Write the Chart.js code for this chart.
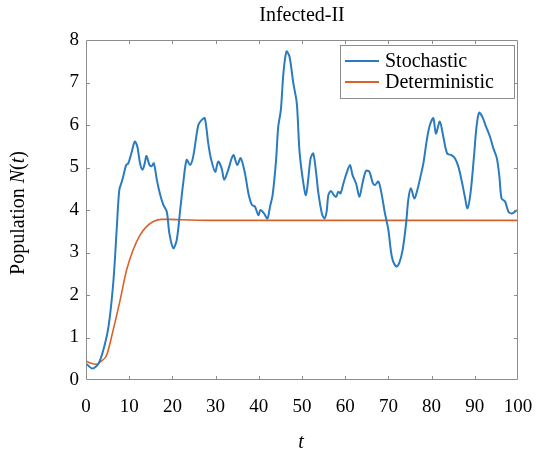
<!DOCTYPE html>
<html>
<head>
<meta charset="utf-8">
<script src="https://cdn.jsdelivr.net/npm/chart.js@4"></script>
<style>
  html, body { margin: 0; padding: 0; background: #fff; }
  #wrap { width: 538px; height: 459px; }
</style>
</head>
<body>
<div id="wrap"><canvas id="infected-chart"></canvas></div>
<script>
// stochastic run
var tStoch = [0, 1.5, 2.9, 4, 5.2, 6.3, 7.1, 7.7, 8.3, 8.6, 9.3, 9.8, 10.6, 11.3, 11.9, 12.5, 13.1, 13.6, 14.0, 14.7,
	15.2, 15.7, 16.4, 17.1, 17.9, 18.7, 19.3, 20.2, 21.0, 21.8, 22.5, 23.3, 24.1, 24.8, 26.0, 26.8, 27.5, 28.3, 28.9, 29.9,
	30.6, 31.4, 32.0, 32.9, 34.1, 35.0, 35.8, 36.8, 37.6, 38.4, 39.1, 39.9, 40.4, 41.2, 42.0, 42.6, 43.2, 44.0, 44.5, 45.1,
	45.7, 46.4, 47.1, 48.0, 48.8, 49.4, 50.2, 50.9, 51.5, 52.0, 52.6, 53.2, 53.8, 54.6, 55.2, 55.7, 56.1, 56.7, 57.4, 57.9,
	58.4, 58.9, 59.6, 60.3, 61.1, 61.7, 62.5, 63.3, 64.0, 64.8, 65.6, 66.4, 66.9, 67.7, 68.4, 69.2, 70.0, 70.8, 71.8, 72.5,
	73.3, 74.1, 74.6, 75.2, 76.0, 76.7, 77.5, 78.1, 78.9, 79.6, 80.4, 81.0, 81.9, 82.7, 83.6, 84.6, 85.4, 86.2, 87.0, 87.7,
	88.3, 89.0, 89.8, 90.4, 91.0, 91.8, 92.6, 93.5, 94.3, 95.1, 95.7, 96.2, 97.0, 97.8, 98.6, 99.8];
var nStoch = [0.39, 0.27, 0.39, 0.7, 1.25, 2.27, 3.53, 4.47, 4.67, 4.78, 5.06, 5.1, 5.37, 5.61, 5.49, 5.1, 4.95, 5.1, 5.27, 5.06,
	5.03, 5.1, 4.71, 4.39, 4.12, 3.96, 3.45, 3.1, 3.29, 4.0, 4.63, 5.18, 5.06, 5.25, 6.0, 6.12, 6.16, 5.57, 5.22, 4.9,
	5.14, 4.98, 4.71, 4.94, 5.29, 5.06, 5.22, 4.86, 4.39, 4.12, 4.08, 3.88, 4.0, 3.92, 3.8, 4.08, 4.35, 5.18, 5.96, 6.35,
	7.22, 7.73, 7.61, 6.98, 6.51, 5.41, 4.71, 4.35, 4.78, 5.22, 5.33, 4.94, 4.39, 3.92, 3.8, 3.96, 4.35, 4.45, 4.35, 4.31,
	4.43, 4.39, 4.63, 4.86, 5.06, 4.82, 4.63, 4.31, 4.63, 4.92, 4.9, 4.63, 4.59, 4.67, 4.39, 3.92, 3.53, 2.9, 2.67, 2.75,
	3.06, 3.69, 4.24, 4.51, 4.27, 4.47, 4.82, 5.1, 5.65, 6.0, 6.16, 5.8, 6.08, 5.73, 5.33, 5.29, 5.22, 5.02, 4.67, 4.31,
	4.04, 4.39, 5.25, 5.96, 6.29, 6.18, 5.96, 5.73, 5.45, 5.22, 4.78, 4.27, 4.2, 3.96, 3.92, 4.0];

// deterministic solution
var tDet = [0, 1, 2.5, 3.5, 4.8, 6.3, 7.9, 9.4, 10.9, 12.5, 14.0, 15.6, 17.5, 19.4, 22, 26, 30, 40, 50, 60, 70, 80, 90, 100];
var nDet = [0.45, 0.4, 0.37, 0.44, 0.59, 1.18, 1.88, 2.59, 3.06, 3.41, 3.61, 3.73, 3.78, 3.78, 3.77, 3.76, 3.755, 3.755, 3.755, 3.755, 3.755, 3.755, 3.755, 3.755];

var seriesNames = ['Stochastic', 'Deterministic'];
var xTicks = [0, 10, 20, 30, 40, 50, 60, 70, 80, 90, 100];
var yTicks = [0, 1, 2, 3, 4, 5, 6, 7, 8];

var serif = '"Liberation Serif", "DejaVu Serif", serif';
var axisGray = '#8c8c8c';

function toPoints(xs, ys) {
	var pts = [];
	for (var i = 0; i < xs.length; i++) {
		pts.push({ x: xs[i], y: ys[i] });
	}
	return pts;
}

// box, inward ticks, title, axis labels and legend
var decorPlugin = {
	id: 'decor',
	afterDraw: function(chart) {
		var ctx = chart.ctx;
		var a = chart.chartArea;
		var xs = chart.scales.x, ys = chart.scales.y;
		ctx.save();
		ctx.strokeStyle = axisGray;
		ctx.lineWidth = 1;
		ctx.beginPath();
		ctx.rect(a.left + 0.5, a.top + 0.5, a.right - a.left - 1, a.bottom - a.top - 1);
		for (var i = 1; i < xTicks.length - 1; i++) {
			var px = Math.round(xs.getPixelForValue(xTicks[i])) + 0.5;
			ctx.moveTo(px, a.bottom); ctx.lineTo(px, a.bottom - 4);
			ctx.moveTo(px, a.top); ctx.lineTo(px, a.top + 4);
		}
		for (var j = 1; j < yTicks.length - 1; j++) {
			var py = Math.round(ys.getPixelForValue(yTicks[j])) + 0.5;
			ctx.moveTo(a.left, py); ctx.lineTo(a.left + 4, py);
			ctx.moveTo(a.right, py); ctx.lineTo(a.right - 4, py);
		}
		ctx.stroke();

		ctx.fillStyle = '#000';
		ctx.textBaseline = 'middle';

		// title
		ctx.font = '20px ' + serif;
		ctx.textAlign = 'center';
		ctx.fillText('Infected-II', (a.left + a.right) / 2, 16);

		// x label
		ctx.font = 'italic 20px ' + serif;
		ctx.fillText('t', (a.left + a.right) / 2 - 1, 443);

		// y label with italic N and t
		ctx.save();
		ctx.translate(19, (a.top + a.bottom) / 2 + 3);
		ctx.rotate(-Math.PI / 2);
		var parts = [['Population ', ''], ['N', 'italic '], ['(', ''], ['t', 'italic '], [')', '']];
		var total = 0;
		parts.forEach(function(p) { ctx.font = p[1] + '20px ' + serif; total += ctx.measureText(p[0]).width; });
		var cx = -total / 2;
		ctx.textAlign = 'left';
		parts.forEach(function(p) {
			ctx.font = p[1] + '20px ' + serif;
			ctx.fillText(p[0], cx, 0);
			cx += ctx.measureText(p[0]).width;
		});
		ctx.restore();

		// legend
		var bx = 340, by = 45, bw = 174, bh = 53;
		ctx.fillStyle = '#fff';
		ctx.fillRect(bx, by, bw, bh);
		ctx.strokeStyle = axisGray;
		ctx.strokeRect(bx + 0.5, by + 0.5, bw, bh);
		ctx.font = '20px ' + serif;
		ctx.textAlign = 'left';
		chart.data.datasets.forEach(function(ds, k) {
			var ly = by + 16 + k * 21;
			ctx.strokeStyle = ds.borderColor;
			ctx.lineWidth = 2;
			ctx.beginPath();
			ctx.moveTo(345, ly); ctx.lineTo(379, ly);
			ctx.stroke();
			ctx.fillStyle = '#000';
			ctx.fillText(ds.label, 385, ly + 1);
		});
		ctx.restore();
	}
};

var ctx = document.getElementById('infected-chart').getContext('2d');
var chart = new Chart(ctx, {
	type: 'line',
	data: {
		datasets: [
			{
				label: seriesNames[0],
				data: toPoints(tStoch, nStoch),
				borderColor: '#2a7bbf',
				borderWidth: 2,
				pointRadius: 0,
				tension: 0.3,
				fill: false
			},
			{
				label: seriesNames[1],
				data: toPoints(tDet, nDet),
				borderColor: '#d9622b',
				borderWidth: 1.6,
				pointRadius: 0,
				cubicInterpolationMode: 'monotone',
				fill: false
			}
		]
	},
	options: {
		responsive: true,
		maintainAspectRatio: false,
		animation: false,
		layout: { padding: { top: 40, right: 20, left: 0, bottom: 0 } },
		plugins: {
			legend: { display: false },
			title: { display: false },
			tooltip: { enabled: false }
		},
		scales: {
			x: {
				type: 'linear',
				min: 0,
				max: 100,
				afterFit: function(scale) {
					scale.height = 79;
					// end labels may hang past the box
					scale.paddingLeft = 0;
					scale.paddingRight = 0;
				},
				afterBuildTicks: function(scale) { scale.ticks = xTicks.map(function(v) { return { value: v }; }); },
				grid: { display: false, drawTicks: false },
				border: { display: false },
				ticks: { color: '#000', padding: 16, maxRotation: 0, font: { family: serif, size: 19 } }
			},
			y: {
				min: 0,
				max: 8,
				afterFit: function(scale) { scale.width = 86; },
				afterBuildTicks: function(scale) { scale.ticks = yTicks.map(function(v) { return { value: v }; }); },
				grid: { display: false, drawTicks: false },
				border: { display: false },
				ticks: { color: '#000', padding: 7, font: { family: serif, size: 19 } }
			}
		}
	},
	plugins: [decorPlugin]
});
</script>
</body>
</html>
